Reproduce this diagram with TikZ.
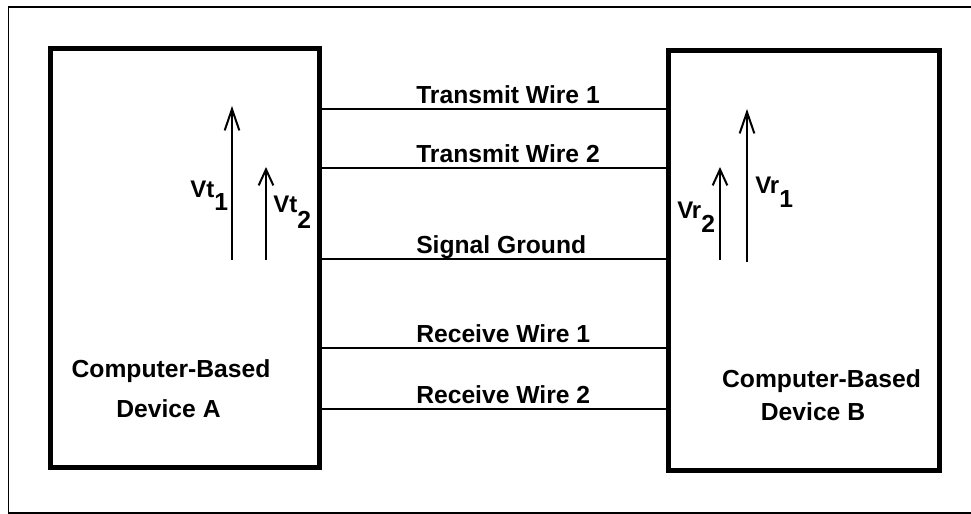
\documentclass[tikz,border=0pt]{standalone}
\usepackage{fontspec}
\setmainfont{Liberation Sans}
\usepackage{tikz}
\usetikzlibrary{arrows.meta}

\tikzset{
  devbox/.style={draw, line width=3.75pt, inner sep=0pt},
  wire/.style={line width=1.5pt},
  wirelabel/.style={anchor=base west, inner sep=0pt, font=\fontsize{18.5}{22}\selectfont\bfseries},
  devlabel/.style={anchor=base, inner sep=0pt, font=\fontsize{18.5}{22}\selectfont\bfseries},
  volt/.style={line width=1.5pt, -{Straight Barb[length=#1, width=11pt]}},
  vlabel/.style={anchor=base west, inner sep=0pt, font=\fontsize{18}{21}\selectfont\bfseries}
}
\newcommand{\volttext}[3]{#1\raisebox{-#3}{\fontsize{18.5}{21}\selectfont #2}}

\begin{document}
\begin{tikzpicture}[x=0.75pt, y=-0.75pt]
			\clip (0,0) rectangle (971,514);
			% Marco
			\draw[line width=1.1pt] (8.5,7) rectangle (975,513);
			
			% Dispositivos
			\node[devbox, minimum width=202.1pt, minimum height=314.6pt] (devA) at (185.25,258.25) {};
			\node[devbox, minimum width=203.25pt, minimum height=315pt] (devB) at (804,260.5) {};
			\node[devlabel] (labA1) at (171,377) {Computer-Based};
			\node[devlabel] (labA2) at (168.5,417) {Device A};
			\node[devlabel] (labB1) at (821.5,387) {Computer-Based};
			\node[devlabel] (labB2) at (813,420) {Device B};
			
			% Cables
			\foreach \y/\txt [count=\i] in {109/Transmit Wire 1, 168/Transmit Wire 2, 259/Signal Ground, 348/Receive Wire 1, 409/Receive Wire 2}{
				\draw[wire] (devA.east |- 0,\y) -- (devB.west |- 0,\y);
				\node[wirelabel] (w\i) at (416,\y-6) {\txt};
			}
			
			% Tensiones
			\draw[volt=16pt] (232,260) -- (232,106);
			\draw[volt=12pt] (266,260) -- (266,167);
			\draw[volt=12pt] (720,260) -- (720,167);
			\draw[volt=16pt] (747,262) -- (747,109);
			\node[vlabel] (vt1) at (190,197) {\volttext{Vt}{1}{9.75pt}};
			\node[vlabel] (vt2) at (273,212) {\volttext{Vt}{2}{12pt}};
			\node[vlabel] (vr2) at (677,218) {\volttext{Vr}{2}{10.5pt}};
			\node[vlabel] (vr1) at (755,193) {\volttext{Vr}{1}{10.5pt}};
			\end{tikzpicture}
\end{document}
